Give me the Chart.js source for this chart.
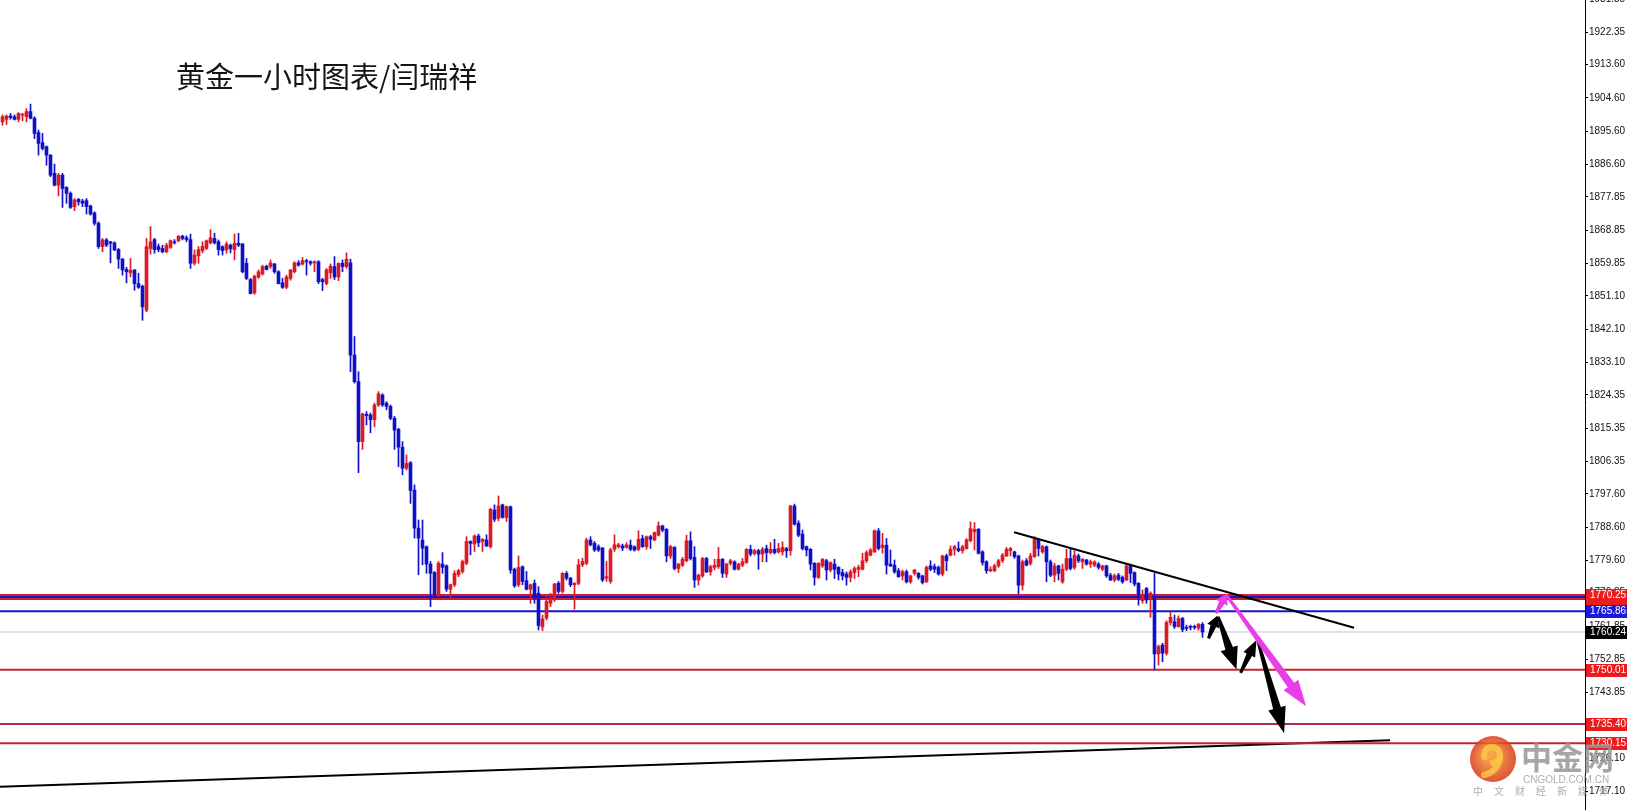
<!DOCTYPE html>
<html>
<head>
<meta charset="utf-8">
<script src="https://cdn.jsdelivr.net/npm/chart.js@4.4.1/dist/chart.umd.min.js"></script>
<style>
html, body { margin: 0; padding: 0; background: #fff; }
canvas { display: block; }
</style>
</head>
<body>
<canvas id="gold" width="1627" height="810"></canvas>
<script>
// hourly gold candles (bar index 0 = left edge)
const opens = [
1898.1,1898.8,1899.7,1899.5,1898.8,1899.9,1899.5,1900.9,1899.1,1895.2,
1892.5,1891.4,1889.1,1884.2,1881.0,1883.7,1880.4,1878.8,1875.2,1877.2,
1876.7,1876.8,1875.4,1873.5,1870.7,1864.4,1866.2,1865.7,1865.4,1863.6,
1861.0,1858.2,1857.3,1858.1,1854.4,1853.7,1847.2,1863.9,1866.3,1864.4,
1863.9,1863.0,1864.2,1865.7,1866.0,1867.2,1866.8,1866.3,1859.9,1861.9,
1863.3,1863.9,1865.4,1866.6,1865.7,1864.4,1863.5,1864.8,1863.6,1865.3,
1865.1,1859.9,1855.5,1851.9,1856.2,1857.0,1859.1,1859.0,1859.7,1857.6,
1854.6,1853.4,1855.8,1857.6,1860.0,1859.7,1860.5,1860.3,1860.0,1860.3,
1855.5,1854.4,1857.3,1859.0,1856.2,1859.9,1859.0,1860.0,1835.1,1827.9,
1811.7,1819.1,1818.9,1817.6,1821.6,1824.3,1822.1,1821.2,1818.0,1815.0,
1810.2,1804.5,1806.0,1798.6,1788.3,1785.1,1783.3,1778.6,1776.3,1770.3,
1778.6,1778.1,1771.8,1773.0,1775.7,1776.6,1778.8,1784.7,1784.0,1786.2,
1784.7,1785.1,1783.3,1793.2,1791.0,1794.6,1791.2,1794.1,1777.2,1773.0,
1777.9,1774.1,1771.8,1773.4,1770.7,1761.6,1764.0,1768.0,1768.9,1773.4,
1771.2,1776.1,1774.8,1773.0,1773.4,1778.4,1778.8,1785.1,1784.2,1783.3,
1782.9,1774.8,1773.9,1782.6,1783.3,1783.5,1783.1,1783.7,1783.3,1782.6,
1785.5,1783.3,1786.0,1785.1,1786.4,1788.9,1788.0,1780.8,1783.1,1777.4,
1778.3,1779.5,1784.9,1780.4,1774.3,1775.4,1780.1,1776.5,1777.7,1777.9,
1779.9,1775.9,1778.8,1779.2,1777.2,1778.3,1779.0,1782.6,1781.5,1782.2,
1781.3,1782.8,1781.7,1782.6,1781.9,1781.9,1782.8,1782.2,1794.3,1789.6,
1786.7,1783.3,1782.6,1778.8,1775.0,1778.1,1779.5,1777.0,1778.6,1777.7,
1776.3,1775.9,1775.0,1776.3,1777.2,1777.2,1779.5,1781.0,1781.9,1787.6,
1783.1,1783.7,1778.6,1778.3,1776.8,1775.4,1776.5,1773.8,1776.1,1776.1,
1775.4,1773.8,1778.1,1777.9,1777.7,1775.9,1780.8,1781.0,1782.6,1782.8,
1782.2,1782.8,1784.9,1787.3,1788.0,1781.9,1779.2,1776.8,1776.8,1778.1,
1779.5,1780.8,1782.2,1781.9,1780.8,1772.9,1779.5,1778.8,1780.6,1785.3,
1781.9,1783.3,1779.2,1775.6,1778.1,1773.8,1777.2,1780.1,1777.7,1780.8,
1779.2,1779.7,1778.6,1778.3,1778.6,1777.2,1778.1,1775.6,1774.3,1775.6,
1775.0,1774.3,1778.1,1776.3,1773.4,1768.7,1772.0,1769.3,1769.8,1754.3,
1756.7,1754.5,1762.8,1763.0,1761.7,1763.9,1761.5,1761.7,1761.7,1761.3,
1762.3
];
const highs = [
1900.0,1900.0,1900.4,1900.0,1900.6,1900.4,1901.7,1902.9,1899.5,1895.9,
1895.0,1891.6,1889.3,1886.7,1884.2,1884.2,1880.6,1879.2,1877.4,1877.4,
1877.2,1877.4,1875.6,1873.8,1871.1,1866.6,1866.6,1865.8,1865.7,1863.9,
1861.2,1858.8,1861.2,1858.2,1857.2,1854.0,1866.6,1869.8,1866.6,1865.1,
1864.8,1865.3,1866.2,1866.3,1867.4,1867.5,1867.3,1867.8,1863.5,1864.4,
1865.7,1866.2,1869.0,1868.0,1866.2,1864.6,1865.7,1865.1,1867.8,1868.0,
1865.3,1861.2,1855.8,1856.7,1858.1,1859.4,1859.4,1860.8,1859.9,1857.9,
1855.8,1856.7,1858.2,1860.3,1860.6,1861.5,1861.0,1860.6,1860.6,1860.6,
1855.8,1858.5,1859.7,1861.7,1860.0,1860.8,1862.7,1861.0,1840.1,1830.6,
1819.4,1819.8,1819.4,1822.1,1825.2,1824.6,1822.5,1821.6,1818.5,1815.3,
1811.7,1808.1,1806.3,1800.0,1790.5,1790.5,1783.5,1779.3,1776.6,1779.3,
1781.7,1778.4,1773.2,1776.8,1777.2,1779.7,1786.0,1784.9,1786.5,1786.7,
1785.5,1786.5,1793.7,1794.6,1797.0,1794.8,1794.3,1794.3,1777.5,1780.8,
1778.1,1776.6,1773.2,1774.3,1772.5,1764.8,1769.9,1770.7,1773.4,1773.9,
1776.3,1776.6,1775.0,1773.6,1779.9,1780.2,1785.6,1786.0,1784.7,1783.8,
1783.1,1779.3,1782.9,1786.5,1784.2,1784.0,1784.4,1785.1,1783.5,1787.6,
1786.4,1786.2,1786.4,1787.3,1790.0,1789.1,1788.2,1783.7,1783.3,1778.8,
1780.4,1786.4,1787.3,1783.3,1775.9,1780.4,1780.4,1778.3,1779.9,1783.1,
1780.1,1778.8,1779.9,1779.5,1778.8,1780.1,1782.8,1783.7,1782.6,1782.6,
1783.1,1783.7,1784.4,1785.3,1784.2,1784.6,1783.1,1794.5,1794.8,1790.3,
1787.8,1783.5,1782.8,1779.0,1779.0,1780.1,1779.9,1779.2,1779.9,1777.9,
1777.2,1776.5,1777.0,1777.9,1778.3,1781.5,1782.2,1782.8,1787.8,1788.2,
1786.9,1785.5,1782.4,1779.7,1777.4,1777.0,1777.0,1775.6,1777.2,1776.3,
1775.6,1778.1,1779.5,1778.6,1778.1,1781.0,1781.3,1783.5,1783.7,1784.6,
1783.7,1785.5,1790.0,1789.8,1788.2,1782.2,1779.5,1777.9,1778.6,1779.9,
1781.5,1783.1,1783.1,1782.1,1781.0,1779.7,1780.1,1781.5,1786.0,1785.5,
1783.7,1783.5,1779.7,1778.8,1778.3,1778.6,1782.6,1782.6,1782.2,1781.3,
1780.1,1779.9,1779.7,1779.5,1779.0,1778.3,1778.3,1776.1,1775.9,1776.1,
1775.4,1778.6,1778.6,1776.5,1773.6,1771.6,1772.3,1771.1,1776.1,1756.7,
1757.2,1763.3,1765.5,1764.8,1764.6,1764.2,1762.1,1762.1,1762.1,1762.6,
1762.8
];
const lows = [
1897.2,1897.4,1898.8,1898.6,1898.1,1898.4,1898.1,1898.9,1893.6,1889.1,
1890.5,1886.4,1883.3,1880.8,1878.1,1875.0,1876.1,1874.7,1874.1,1875.6,
1875.2,1873.2,1872.9,1870.2,1863.9,1863.0,1864.4,1860.0,1863.3,1858.5,
1856.7,1854.6,1856.2,1852.6,1853.1,1844.5,1846.8,1862.4,1862.6,1863.0,
1862.7,1862.7,1863.9,1865.1,1865.7,1866.2,1865.7,1858.5,1859.4,1859.9,
1862.7,1863.6,1865.1,1865.1,1862.1,1862.1,1862.6,1862.7,1860.8,1864.4,
1857.3,1855.5,1851.6,1851.5,1855.8,1856.7,1858.1,1858.5,1857.2,1854.3,
1853.1,1853.0,1855.3,1857.3,1859.1,1859.4,1856.7,1859.4,1857.6,1854.4,
1852.5,1854.0,1855.8,1855.5,1855.2,1857.6,1858.5,1830.6,1827.5,1803.3,
1809.6,1816.2,1814.1,1815.7,1821.2,1821.2,1820.3,1817.6,1809.6,1804.9,
1802.7,1804.0,1795.0,1785.6,1775.7,1778.4,1776.1,1767.1,1770.0,1769.8,
1776.1,1771.2,1769.6,1772.5,1775.2,1776.1,1778.4,1781.1,1782.0,1783.3,
1782.0,1783.3,1782.9,1790.1,1790.3,1791.0,1790.1,1776.1,1772.3,1772.5,
1773.0,1771.6,1768.0,1768.0,1760.8,1760.6,1763.5,1767.1,1768.5,1770.7,
1770.7,1774.3,1772.5,1766.4,1773.0,1777.9,1778.4,1783.5,1782.0,1782.0,
1773.9,1773.9,1773.4,1782.0,1782.9,1782.2,1782.9,1782.2,1782.1,1782.2,
1783.1,1782.6,1782.8,1784.9,1786.2,1787.3,1779.2,1780.1,1777.0,1776.3,
1777.9,1779.2,1779.7,1772.3,1772.9,1775.0,1776.3,1775.6,1777.0,1777.4,
1775.0,1775.0,1778.3,1777.0,1777.0,1777.9,1778.8,1780.8,1781.0,1777.2,
1779.2,1779.2,1781.3,1781.3,1781.5,1781.0,1780.4,1781.0,1789.1,1786.0,
1782.4,1780.8,1777.0,1772.9,1774.7,1777.7,1774.3,1776.5,1774.7,1774.3,
1774.3,1772.9,1773.8,1774.7,1775.2,1777.0,1779.0,1780.8,1781.7,1782.4,
1781.5,1775.9,1777.9,1776.1,1775.0,1774.3,1773.5,1773.4,1775.6,1774.5,
1773.2,1773.6,1776.8,1776.3,1775.6,1775.4,1776.8,1780.8,1781.0,1781.9,
1781.5,1782.6,1784.6,1782.4,1781.3,1778.3,1776.1,1776.5,1776.5,1777.7,
1779.0,1780.6,1780.8,1780.1,1770.5,1771.6,1778.1,1778.3,1780.4,1780.8,
1781.5,1773.8,1775.2,1773.8,1774.3,1773.4,1776.8,1777.0,1777.2,1779.0,
1777.4,1778.3,1777.7,1777.9,1777.2,1776.8,1775.0,1774.1,1773.8,1774.1,
1773.4,1774.1,1773.6,1772.7,1767.5,1768.0,1768.0,1764.2,1750.2,1751.3,
1752.2,1754.0,1762.1,1761.2,1761.5,1760.3,1760.6,1760.8,1761.0,1760.7,
1758.8
];
const closes = [
1899.5,1899.7,1899.3,1898.8,1900.4,1900.2,1900.9,1899.1,1895.0,1892.3,
1890.9,1889.1,1883.7,1881.0,1883.7,1880.1,1878.8,1875.0,1877.0,1876.5,
1876.1,1875.2,1873.2,1870.7,1864.4,1866.2,1864.8,1865.3,1863.5,1861.0,
1858.1,1857.6,1858.0,1854.4,1853.4,1848.1,1864.4,1865.7,1863.6,1863.6,
1863.0,1864.8,1866.0,1865.4,1867.2,1866.6,1866.3,1859.9,1862.1,1863.6,
1864.5,1866.0,1866.8,1865.4,1863.6,1863.3,1865.1,1863.8,1865.3,1864.8,
1857.6,1855.8,1851.7,1856.4,1857.6,1859.0,1858.2,1860.0,1857.6,1854.4,
1853.4,1856.2,1858.1,1860.0,1859.4,1860.6,1860.3,1859.9,1860.3,1854.9,
1854.9,1858.1,1859.1,1856.2,1859.9,1859.0,1861.0,1835.1,1827.9,1811.7,
1819.2,1818.7,1817.6,1821.6,1824.6,1821.6,1821.2,1818.0,1814.8,1810.2,
1804.5,1805.8,1798.5,1788.3,1785.6,1782.9,1778.6,1776.1,1770.3,1778.8,
1777.7,1771.8,1773.0,1776.1,1776.8,1779.3,1784.7,1784.2,1786.2,1784.4,
1785.3,1783.5,1793.4,1790.7,1794.3,1791.2,1794.1,1777.0,1772.7,1777.7,
1773.9,1771.8,1773.0,1769.8,1762.0,1763.8,1768.5,1769.4,1773.2,1771.2,
1776.1,1774.8,1773.0,1773.4,1778.4,1779.3,1785.1,1783.8,1782.4,1782.4,
1774.3,1775.2,1782.4,1783.8,1783.8,1782.9,1783.8,1782.6,1782.4,1785.3,
1783.3,1786.0,1785.3,1787.1,1788.9,1787.8,1780.8,1783.3,1777.4,1778.6,
1779.9,1784.9,1780.1,1774.3,1775.6,1780.1,1776.5,1777.9,1778.3,1779.9,
1776.1,1778.6,1779.5,1777.2,1778.6,1779.2,1782.6,1781.3,1782.2,1781.3,
1782.6,1781.7,1782.6,1781.7,1782.8,1783.1,1782.2,1794.3,1789.4,1786.4,
1782.8,1782.4,1778.6,1775.0,1778.8,1779.9,1777.0,1779.0,1777.2,1775.9,
1775.4,1775.0,1776.5,1777.4,1777.7,1779.5,1781.7,1782.4,1787.6,1782.8,
1783.7,1778.3,1778.1,1776.5,1775.2,1776.5,1773.8,1775.4,1777.0,1775.0,
1773.6,1777.7,1777.2,1777.2,1775.9,1780.8,1779.5,1782.6,1783.3,1782.2,
1783.3,1785.1,1788.2,1788.0,1781.5,1779.0,1776.8,1777.2,1778.1,1779.5,
1781.0,1782.6,1782.8,1780.6,1772.9,1779.2,1778.3,1780.8,1785.3,1782.8,
1783.3,1779.2,1775.6,1778.1,1776.1,1777.2,1780.1,1777.4,1781.0,1779.5,
1779.9,1778.6,1779.2,1779.2,1777.7,1778.1,1775.4,1774.3,1775.4,1774.5,
1773.8,1778.1,1776.1,1773.2,1770.5,1770.2,1768.9,1770.7,1754.3,1756.3,
1754.5,1762.8,1764.2,1761.7,1763.9,1760.9,1761.2,1761.5,1761.5,1762.3,
1760.24
];

// right axis tick labels
const axisTicks = [1931.35,1922.35,1913.60,1904.60,1895.60,1886.60,1877.85,1868.85,1859.85,
  1851.10,1842.10,1833.10,1824.35,1815.35,1806.35,1797.60,1788.60,1779.60,1770.85,1761.85,
  1752.85,1743.85,1734.85,1726.10,1717.10];

// horizontal price levels and the kind of each
const levelPrices = [1770.25, 1769.70, 1769.15, 1765.86, 1760.24, 1750.01, 1735.40, 1730.15];
const levelKinds  = ['res', 'blue', 'res', 'blue', 'bid', 'sup', 'sup2', 'sup'];
// price tags on the axis, painted in this order
const tagPrices = [1769.15, 1770.25, 1765.86, 1760.24, 1750.01, 1735.40, 1730.15];
const tagKinds  = ['res', 'res', 'blue', 'bid', 'sup', 'sup', 'sup'];

// hand drawn lines: [barIndex, price] pairs
const downTrend = [[252.9, 1787.2], [337.9, 1761.4]];
const supportLine = [[-0.625, 1718.4], [346.9, 1731.0]];
// arrows: [fromBar, fromPrice, toBar, toPrice]
const blackArrows = [[301.5, 1758.5, 303.7, 1764.6], [303.9, 1764.4, 308.5, 1750.1],
  [309.5, 1749.2, 313.5, 1758.1], [313.9, 1757.6, 320.4, 1732.9]];
const pinkArrows = [[303.4, 1765.3, 306.0, 1770.5], [306.0, 1770.2, 325.9, 1740.2]];

const X_MIN = -0.625, X_MAX = 395.625, Y_MIN = 1712.13, Y_MAX = 1931.05;
const RED = 'rgb(218,26,36)', BLUE = 'rgb(16,16,200)';

const kindStyle = {
  res:  { line: 'rgb(206,30,48)',  width: 2, tag: 'rgb(236,28,30)' },
  blue: { line: 'rgb(22,22,200)',  width: 2, tag: 'rgb(26,26,216)' },
  bid:  { line: 'rgb(196,196,196)', width: 1, tag: '#000' },
  sup:  { line: 'rgb(198,36,44)',  width: 2, tag: 'rgb(236,28,30)' },
  sup2: { line: 'rgb(178,46,66)',  width: 2, tag: 'rgb(236,28,30)' }
};

const idx = opens.map((_, i) => i);
const candleColor = idx.map(i => closes[i] >= opens[i] ? RED : BLUE);

const datasets = [];
datasets.push({
  type: 'line', data: downTrend.map(p => ({ x: p[0], y: p[1] })),
  borderColor: '#000', borderWidth: 2, pointRadius: 0, order: 0
});
datasets.push({
  type: 'bar',
  data: idx.map(i => ({ x: i, y: [Math.min(opens[i], closes[i]), Math.max(opens[i], closes[i])] })),
  backgroundColor: candleColor, borderWidth: 0, barThickness: 3, minBarLength: 1, grouped: false, order: 1
});
datasets.push({
  type: 'bar',
  data: idx.map(i => ({ x: i, y: [lows[i], highs[i]] })),
  backgroundColor: candleColor, borderWidth: 0, barThickness: 1, grouped: false, order: 2
});
levelPrices.forEach((p, k) => {
  const st = kindStyle[levelKinds[k]];
  datasets.push({
    type: 'line', data: [{ x: X_MIN, y: p }, { x: X_MAX, y: p }],
    borderColor: st.line, borderWidth: st.width, pointRadius: 0, order: 3
  });
});
datasets.push({
  type: 'line', data: supportLine.map(p => ({ x: p[0], y: p[1] })),
  borderColor: '#000', borderWidth: 2, pointRadius: 0, order: 4
});

function arrow(ctx, x0, y0, x1, y1, color, big) {
  const dx = x1 - x0, dy = y1 - y0, len = Math.hypot(dx, dy);
  const ux = dx / len, uy = dy / len, nx = -uy, ny = ux;
  const head = big ? Math.min(26, len * 0.4) : len * 0.45;
  const half = big ? 9 : 6.5;
  const shaft = big ? 4 : 3;
  const bx = x1 - ux * head, by = y1 - uy * head;
  ctx.beginPath();
  ctx.moveTo(x0 + nx * 1.4, y0 + ny * 1.4);
  ctx.lineTo(bx + nx * shaft, by + ny * shaft);
  ctx.lineTo(bx + nx * half, by + ny * half);
  ctx.lineTo(x1, y1);
  ctx.lineTo(bx - nx * half, by - ny * half);
  ctx.lineTo(bx - nx * shaft, by - ny * shaft);
  ctx.lineTo(x0 - nx * 1.4, y0 - ny * 1.4);
  ctx.closePath();
  ctx.fillStyle = color;
  ctx.fill();
}

const overlay = {
  id: 'overlay',
  afterDatasetsDraw(chart) {
    const { ctx, scales: { x, y } } = chart;
    ctx.save();
    blackArrows.forEach(a => arrow(ctx, x.getPixelForValue(a[0]), y.getPixelForValue(a[1]),
      x.getPixelForValue(a[2]), y.getPixelForValue(a[3]), '#000', Math.abs(a[3] - a[1]) > 9));
    pinkArrows.forEach(a => arrow(ctx, x.getPixelForValue(a[0]), y.getPixelForValue(a[1]),
      x.getPixelForValue(a[2]), y.getPixelForValue(a[3]), 'rgb(232,62,232)', Math.abs(a[3] - a[1]) > 9));
    ctx.restore();
  },
  afterDraw(chart) {
    const { ctx, scales: { y }, chartArea } = chart;
    ctx.save();
    // price tags on the axis
    ctx.font = '10px "Liberation Sans", Arial, sans-serif';
    ctx.textBaseline = 'middle';
    tagPrices.forEach((p, k) => {
      const py = Math.round(y.getPixelForValue(p));
      ctx.fillStyle = kindStyle[tagKinds[k]].tag;
      ctx.fillRect(chartArea.right + 1, py - 6, 42, 13);
      ctx.fillStyle = '#fff';
      ctx.fillText(p.toFixed(2), chartArea.right + 5, py + 0.5);
    });
    // title
    ctx.fillStyle = '#151515';
    ctx.font = '29px "Noto Sans CJK SC", sans-serif';
    ctx.textBaseline = 'middle';
    ctx.fillText('黄金一小时图表/闫瑞祥', 176, 77);
    // watermark
    ctx.globalAlpha = 0.85;
    const g = ctx.createRadialGradient(1490, 754, 4, 1493, 759, 24);
    g.addColorStop(0, 'rgb(246,150,40)');
    g.addColorStop(1, 'rgb(214,52,26)');
    ctx.fillStyle = g;
    ctx.beginPath(); ctx.arc(1493, 759, 23, 0, Math.PI * 2); ctx.fill();
    ctx.strokeStyle = 'rgb(252,200,70)';
    ctx.lineWidth = 6; ctx.lineCap = 'round';
    ctx.beginPath(); ctx.arc(1492, 755, 8, Math.PI * 0.9, Math.PI * 2.45); ctx.stroke();
    ctx.beginPath(); ctx.moveTo(1500, 759); ctx.quadraticCurveTo(1497, 772, 1484, 775); ctx.stroke();
    ctx.fillStyle = 'rgb(150,150,150)';
    ctx.font = 'bold 31px "Noto Sans CJK SC", sans-serif';
    ctx.textBaseline = 'middle';
    ctx.fillText('中金网', 1521, 757);
    ctx.font = '10px "Liberation Sans", Arial, sans-serif';
    ctx.fillStyle = 'rgb(160,160,160)';
    ctx.fillText('CNGOLD.COM.CN', 1523, 780);
    ctx.font = '10px "Noto Sans CJK SC", sans-serif';
    ctx.textAlign = 'center';
    ['中', '文', '财', '经', '新', '媒', '体'].forEach((c, k) => ctx.fillText(c, 1478 + k * 21, 791));
    ctx.restore();
  }
};

new Chart(document.getElementById('gold').getContext('2d'), {
  type: 'bar',
  data: { datasets },
  options: {
    responsive: false,
    animation: false,
    devicePixelRatio: 1,
    layout: { padding: 0 },
    plugins: { legend: { display: false }, tooltip: { enabled: false } },
    scales: {
      x: { type: 'linear', min: X_MIN, max: X_MAX, display: false, offset: false, grid: { offset: false } },
      y: {
        type: 'linear', position: 'right', min: Y_MIN, max: Y_MAX,
        border: { display: true, color: '#000', width: 1 },
        grid: { drawOnChartArea: false, drawTicks: true, tickLength: 3, tickColor: '#000' },
        ticks: {
          autoSkip: false, padding: 1, color: '#111',
          font: { family: '"Liberation Sans", Arial, sans-serif', size: 10 },
          callback: v => v.toFixed(2)
        },
        afterBuildTicks: s => { s.ticks = axisTicks.map(v => ({ value: v })); },
        afterFit: s => { s.width = 42; s.paddingTop = 0; s.paddingBottom = 0; }
      }
    }
  },
  plugins: [overlay]
});
</script>
</body>
</html>
